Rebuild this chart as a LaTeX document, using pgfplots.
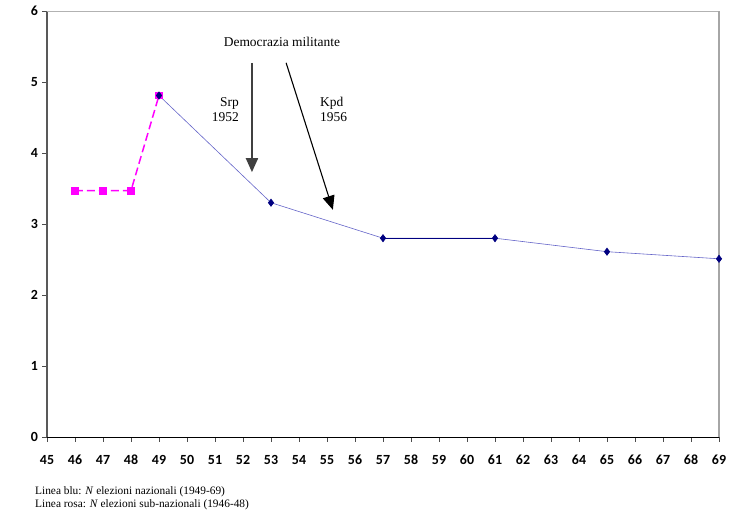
\documentclass[border=0pt]{standalone}
\usepackage{fontspec}
\setmainfont{Liberation Serif}
\newfontfamily\carlitob{Carlito Bold}
\usepackage{pgfplots}
\pgfplotsset{compat=1.18}
\usetikzlibrary{arrows.meta}
\definecolor{pinkline}{RGB}{255,0,255}
\definecolor{navymark}{RGB}{0,0,128}
\definecolor{blueline}{RGB}{100,100,200}
\begin{document}
\begin{tikzpicture}
\begin{axis}[
  scale only axis, width=672bp, height=426bp,
  xmin=45, xmax=69, ymin=0, ymax=6,
  xtick={45,...,69}, ytick={0,...,6},
  axis x line*=bottom, axis y line*=left,
  x axis line style={black, line width=0.8pt, -},
  y axis line style={black!65, line width=1.7pt, -},
  tick align=outside,
  major tick length=4.5bp,
  tick style={black!70, line width=0.7pt},
  ticklabel style={font=\carlitob\fontsize{14}{16}\selectfont},
  /pgf/number format/assume math mode=true,
  xticklabel style={anchor=north, text height=10bp, text depth=0bp, yshift=-9bp},
  yticklabel style={xshift=-1bp},
  clip=false,
]
\draw[gray!60, line width=0.6pt] (rel axis cs:0,1) -- (rel axis cs:1,1);
\draw[gray!70, line width=1.4pt] (rel axis cs:1,0) -- (rel axis cs:1,1);
\addplot[pinkline, dash pattern=on 8bp off 4bp, line width=1.5pt, mark=square*, mark size=3.2bp, mark options={solid, fill=pinkline}]
 coordinates {(46,3.47) (47,3.47) (48,3.47) (49,4.81)};
\addplot[blueline, line width=0.6pt, mark=diamond*, mark size=3.6bp, mark options={navymark, fill=navymark}]
 coordinates {(49,4.81) (53,3.30) (57,2.80) (61,2.80) (65,2.61) (69,2.51)};
\draw[navymark, line width=0.9pt] (axis cs:57,2.80) -- (axis cs:61,2.80);
\node[font=\fontsize{13.5}{15}\selectfont] at (axis cs:53.39,5.56) {Democrazia militante};
\node[font=\fontsize{13.5}{15}\selectfont, align=right, inner sep=0pt, anchor=east] at (axis cs:51.86,4.61) {Srp\\1952};
\node[font=\fontsize{13.5}{15}\selectfont, align=left, inner sep=0pt, anchor=west] at (axis cs:54.75,4.61) {Kpd\\1956};
\draw[black!75, line width=2pt, -{Triangle[width=12bp,length=14bp]}] (axis cs:52.32,5.27) -- (axis cs:52.32,3.73);
\draw[black, line width=1.1pt, -{Triangle[width=12bp,length=14bp]}] (axis cs:53.54,5.27) -- (axis cs:55.21,3.20);
\end{axis}
\node[anchor=north west, font=\fontsize{11.4}{13}\selectfont, align=left, inner sep=0pt] at ([xshift=-12bp,yshift=-49bp]current axis.origin) {Linea blu: \textit{N} elezioni nazionali (1949-69)\\Linea rosa: \textit{N} elezioni sub-nazionali (1946-48)};
\pgfresetboundingbox
\path ([xshift=-47bp,yshift=-83bp]current axis.origin) rectangle ([xshift=687bp,yshift=437bp]current axis.origin);
\end{tikzpicture}
\end{document}
